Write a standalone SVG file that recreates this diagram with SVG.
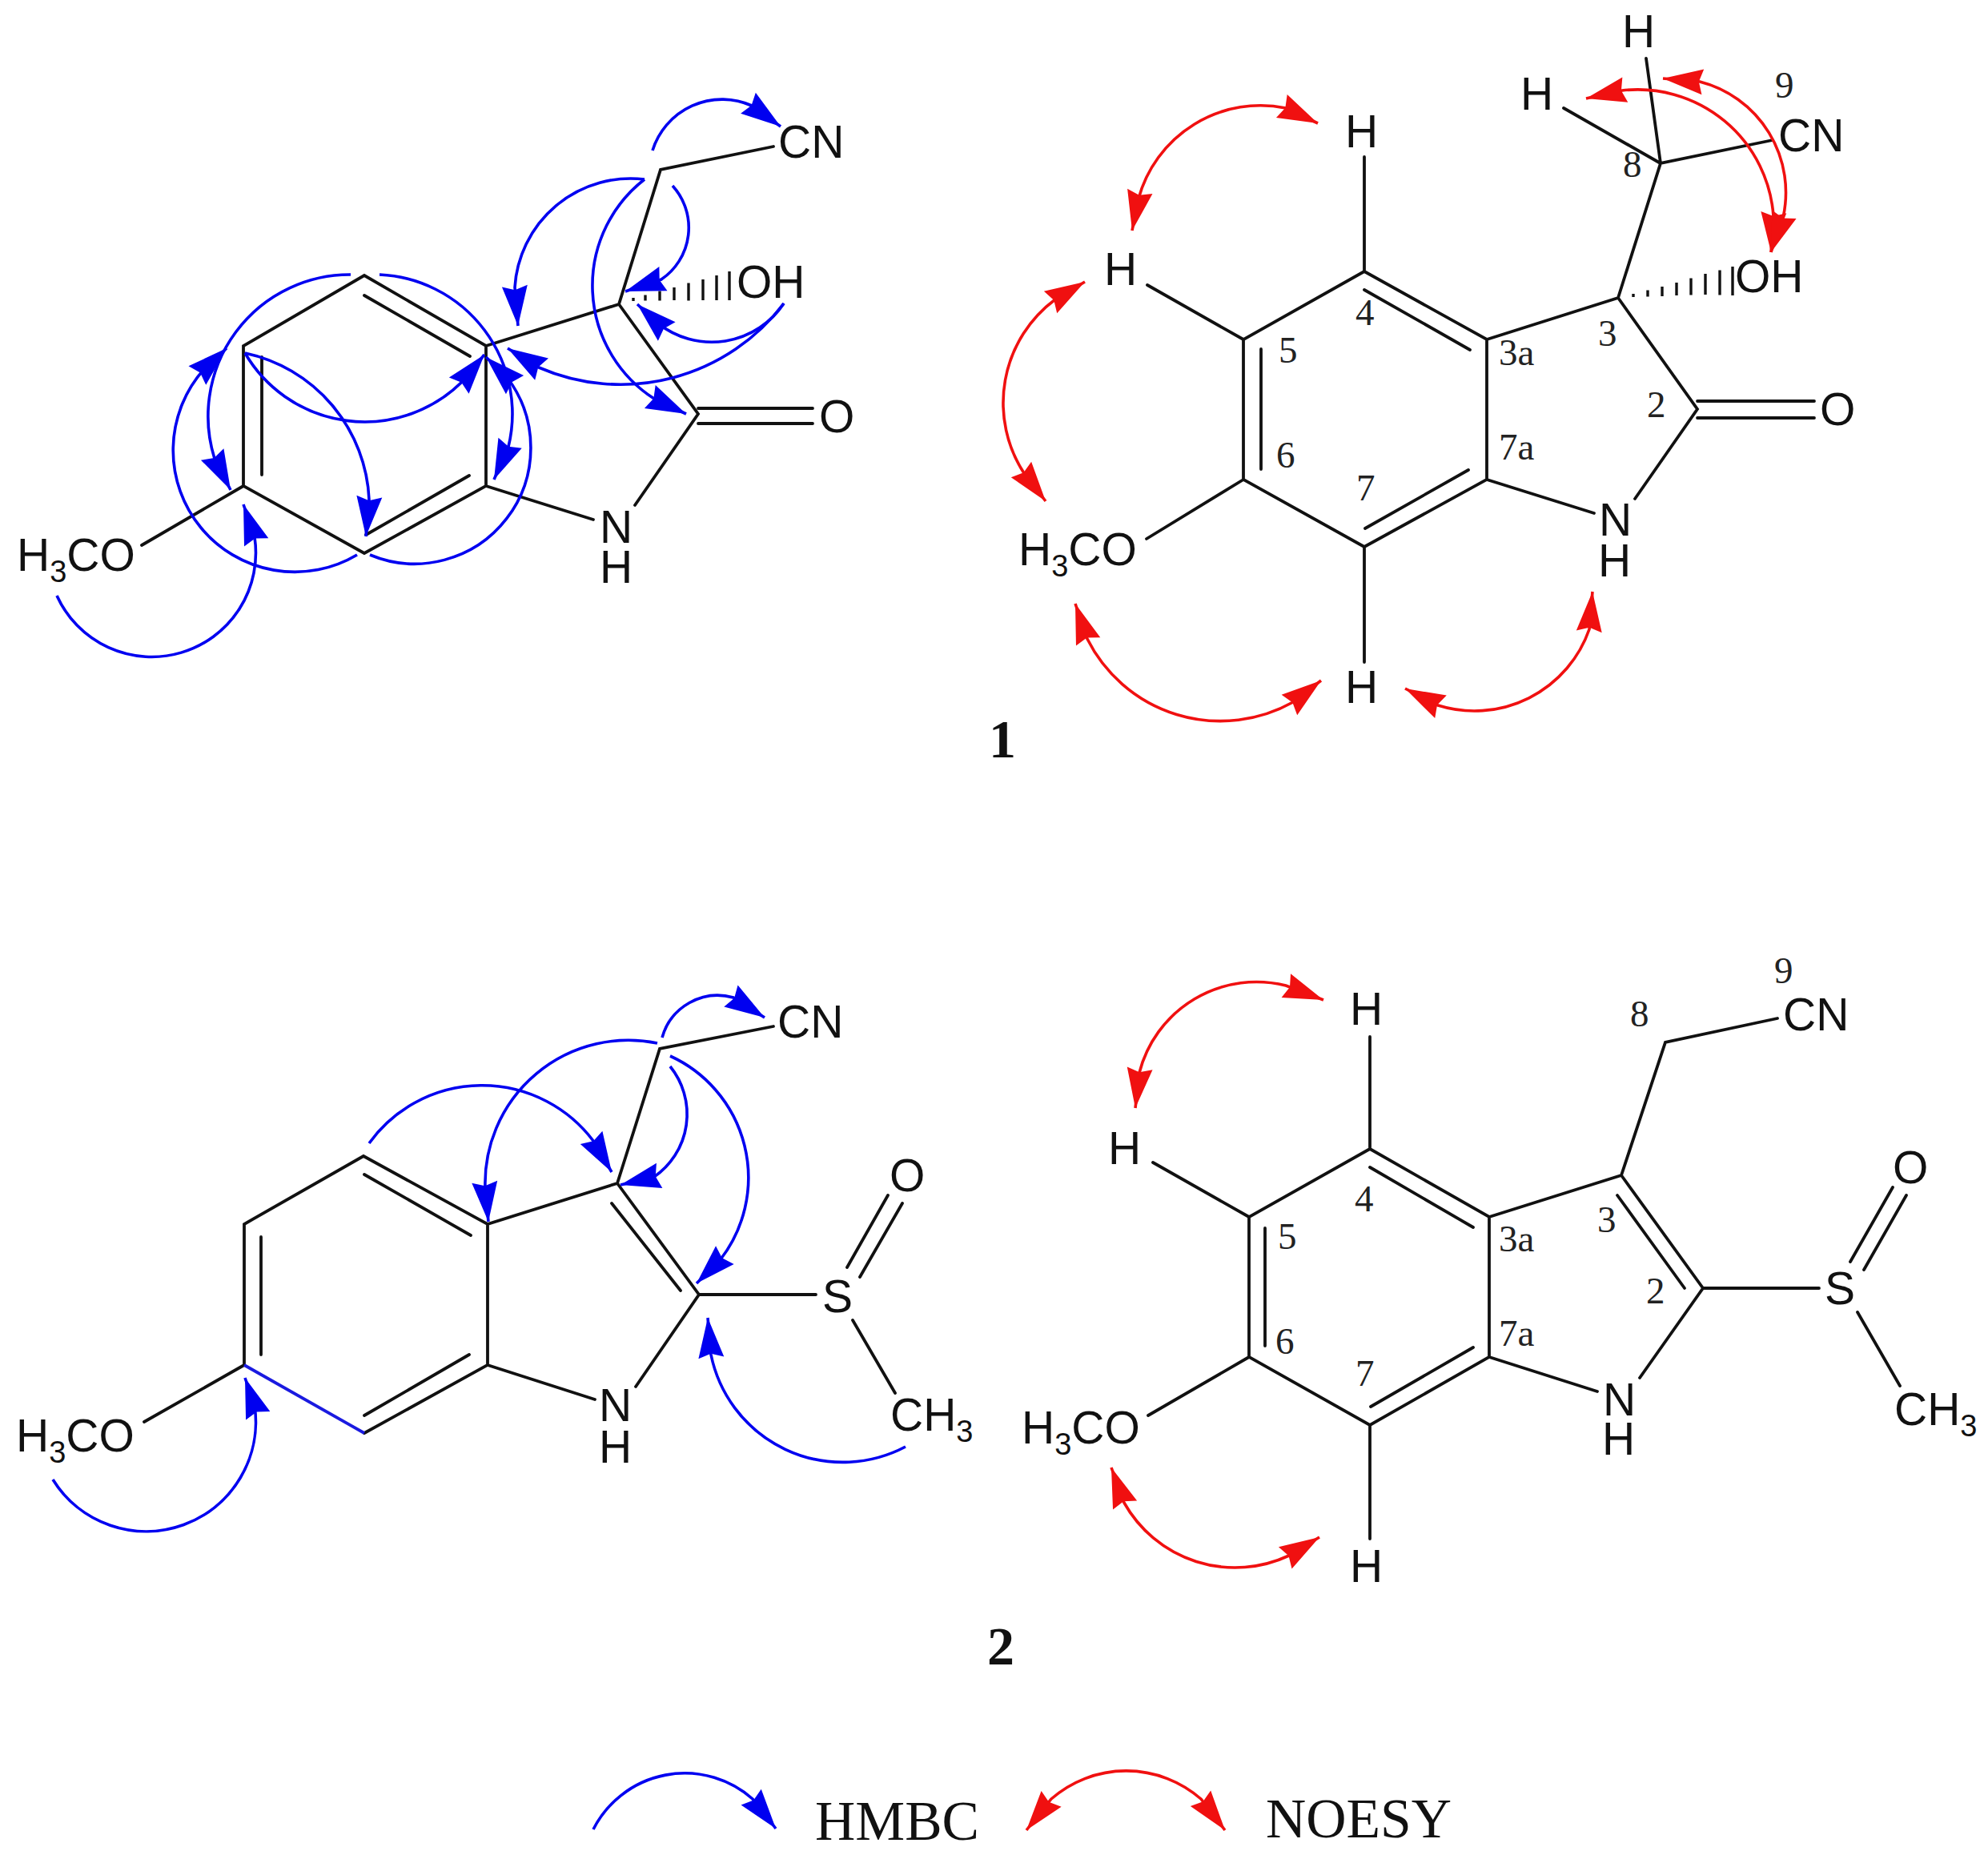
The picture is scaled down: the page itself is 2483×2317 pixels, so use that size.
<svg xmlns="http://www.w3.org/2000/svg" width="2483" height="2317" viewBox="0 0 2483 2317">
<style>
.b{fill:none;stroke:#111;stroke-width:3.8;stroke-linecap:round}
.h{fill:none;stroke:#111;stroke-width:3.4}
.a{font-family:"Liberation Sans",Arial,sans-serif;font-size:57px;fill:#111}
.n{font-family:"Liberation Serif","Times New Roman",serif;font-size:47px;fill:#222}
.t{font-family:"Liberation Serif","Times New Roman",serif;font-size:70px;fill:#111}
.c{font-family:"Liberation Serif","Times New Roman",serif;font-size:68px;font-weight:bold;fill:#111}
.hm{fill:none;stroke:#0000f0;stroke-width:3.6;marker-end:url(#mb)}
.no{fill:none;stroke:#f01010;stroke-width:3.6;marker-start:url(#mr);marker-end:url(#mr)}
</style>
<defs>
<marker id="mb" markerUnits="userSpaceOnUse" markerWidth="60" markerHeight="40" refX="50" refY="16" orient="auto-start-reverse" viewBox="0 0 60 32" overflow="visible"><path d="M0,0L50,16L0,32L5,16z" fill="#0000f0"/></marker>
<marker id="mr" markerUnits="userSpaceOnUse" markerWidth="60" markerHeight="40" refX="50" refY="16" orient="auto-start-reverse" viewBox="0 0 60 32" overflow="visible"><path d="M0,0L50,16L0,32L5,16z" fill="#f01010"/></marker>
</defs>

<g id="molecule-1-hmbc">
<path class="b" d="M966,183L825,212L773,380L607,432L455,344L304,432V607L455,691L607,607V432M455,369L587,445M327,446V593M457,668L586,594M607,607L741,649M773,380L872,517L793,631M872,510H1015M872,529H1015M304,607L177,681"/>
<path class="h" d="M791,372v4M806,368.500v7M824,363.500v12M842,359v16M860,353.500v22M878,349v26M895,344v31M911,339v36"/>
<text class="a" x="972" y="197">CN</text>
<text class="a" x="920" y="372">OH</text>
<text class="a" x="1023" y="540">O</text>
<text class="a" x="749" y="678">N</text>
<text class="a" x="749" y="728">H</text>
<text class="a" x="21" y="713">H<tspan font-size="38" dy="14">3</tspan><tspan dy="-14">CO</tspan></text>
</g>

<g id="molecule-1-noesy">
<path class="b" d="M2214,175L2074,204L2021,372L1857,424L1704,339L1553,424V599L1704,683L1857,599V424M1704,362L1836,437M1575,436V586M1705,660L1834,587M1857,599L1991,641M2021,372L2120,511L2042,623M2120,501H2266M2120,522H2266M1553,599L1432,673M1433,356L1553,424M1704,196V339M1704,683V827M2056,73L2074,204M1953,135L2074,204"/>
<path class="h" d="M2040,367v4M2058,362.500v8M2076,358v12M2094,353v16M2112,347.500v21M2130,342v26M2148,337.500v31M2164,333v36"/>
<text class="a" x="2221" y="189">CN</text>
<text class="a" x="2167" y="365">OH</text>
<text class="a" x="2273" y="531">O</text>
<text class="a" x="2026" y="59">H</text>
<text class="a" x="1899" y="137">H</text>
<text class="a" x="1680" y="184">H</text>
<text class="a" x="1379" y="356">H</text>
<text class="a" x="1997" y="669">N</text>
<text class="a" x="1996" y="720">H</text>
<text class="a" x="1680" y="878">H</text>
<text class="a" x="1272" y="706">H<tspan font-size="38" dy="14">3</tspan><tspan dy="-14">CO</tspan></text>
<text class="n" x="2217" y="122">9</text>
<text class="n" x="2027" y="221">8</text>
<text class="n" x="1693" y="406">4</text>
<text class="n" x="1597" y="453">5</text>
<text class="n" x="1872" y="456">3a</text>
<text class="n" x="1996" y="432">3</text>
<text class="n" x="2057" y="521">2</text>
<text class="n" x="1872" y="574">7a</text>
<text class="n" x="1594" y="584">6</text>
<text class="n" x="1694" y="625">7</text>
</g>
<text id="label-1" class="c" x="1252" y="946" text-anchor="middle">1</text>

<g id="molecule-2-hmbc">
<path class="b" d="M966,1282L824,1310L771,1478L609,1529L454,1444L305,1529V1705M455,1790L609,1705V1529M455,1467L588,1543M326,1545V1692M455,1768L586,1692M609,1705L743,1748M771,1478L873,1617L794,1732M764,1503L850,1612M873,1617H1019M1058,1583L1109,1493M1074,1595L1127,1503M1065,1649L1118,1740M305,1705L180,1776"/>
<path d="M305,1705L455,1790" fill="none" stroke="#1a1ae0" stroke-width="3.8"/>
<text class="a" x="971" y="1296">CN</text>
<text class="a" x="1111" y="1488">O</text>
<text class="a" x="1027" y="1639">S</text>
<text class="a" x="748" y="1775">N</text>
<text class="a" x="748" y="1827">H</text>
<text class="a" x="20" y="1813">H<tspan font-size="38" dy="14">3</tspan><tspan dy="-14">CO</tspan></text>
<text class="a" x="1112" y="1787">CH<tspan font-size="38" dy="14">3</tspan></text>
</g>

<g id="molecule-2-noesy">
<path class="b" d="M2220,1272L2080,1302L2025,1468L1860,1520L1711,1435L1560,1520V1695L1711,1780L1860,1695V1520M1711,1458L1840,1533M1580,1534V1681M1712,1757L1840,1683M1860,1695L1995,1738M2025,1468L2127,1609L2048,1721M2020,1493L2104,1609M2127,1609H2272M2311,1576L2364,1483M2328,1586L2381,1493M2320,1639L2373,1731M1560,1695L1434,1768M1440,1452L1560,1520M1711,1295V1435M1711,1780V1922"/>
<text class="a" x="2227" y="1287">CN</text>
<text class="a" x="2364" y="1478">O</text>
<text class="a" x="2279" y="1629">S</text>
<text class="a" x="1686" y="1280">H</text>
<text class="a" x="1384" y="1454">H</text>
<text class="a" x="2002" y="1768">N</text>
<text class="a" x="2001" y="1817">H</text>
<text class="a" x="1686" y="1976">H</text>
<text class="a" x="1276" y="1803">H<tspan font-size="38" dy="14">3</tspan><tspan dy="-14">CO</tspan></text>
<text class="a" x="2366" y="1780">CH<tspan font-size="38" dy="14">3</tspan></text>
<text class="n" x="2216" y="1228">9</text>
<text class="n" x="2036" y="1282">8</text>
<text class="n" x="1692" y="1513">4</text>
<text class="n" x="1995" y="1539">3</text>
<text class="n" x="1596" y="1560">5</text>
<text class="n" x="1872" y="1563">3a</text>
<text class="n" x="2056" y="1628">2</text>
<text class="n" x="1872" y="1681">7a</text>
<text class="n" x="1593" y="1691">6</text>
<text class="n" x="1693" y="1731">7</text>
</g>
<text id="label-2" class="c" x="1250" y="2079" text-anchor="middle">2</text>

<g id="connectors">
<g id="hmbc-1">
<path class="hm" d="M815,188A91,91 0 0 1 939,132L975,158"/>
<path class="hm" d="M805,224A145,145 0 0 0 643,359L647,407"/>
<path class="hm" d="M840,232A78,78 0 0 1 826,349L781,364"/>
<path class="hm" d="M805,224A168,168 0 0 0 817,498L857,517"/>
<path class="hm" d="M979,379A108,108 0 0 1 822,404L796,380"/>
<path class="hm" d="M979,379A256,256 0 0 1 673,459L634,435"/>
<path class="hm" d="M306,441A173,173 0 0 0 577,477L605,443"/>
<path class="hm" d="M306,441A196,196 0 0 1 461,624L457,670"/>
<path class="hm" d="M438,343A177,177 0 0 0 268,573L288,612"/>
<path class="hm" d="M446,693A152,152 0 0 1 255,461L283,435"/>
<path class="hm" d="M474,343A174,174 0 0 1 635,558L617,599"/>
<path class="hm" d="M462,693A145,145 0 0 0 633,471L607,446"/>
<path class="hm" d="M71,744A130,130 0 0 0 318,671L304,630"/>
</g>
<g id="noesy-1">
<path class="no" d="M1414,288L1422,248A158,158 0 0 1 1606,135L1646,154"/>
<path class="no" d="M1355,352L1318,374A161,161 0 0 0 1279,591L1306,626"/>
<path class="no" d="M1343,754L1358,798A186,186 0 0 0 1615,877L1650,850"/>
<path class="no" d="M1755,860L1796,881A152,152 0 0 0 1985,786L1989,739"/>
<path class="no" d="M1981,123L2026,113A170,170 0 0 1 2215,270L2212,315"/>
<path class="no" d="M2077,98L2123,102A143,143 0 0 1 2227,272L2212,315"/>
</g>
<g id="hmbc-2">
<path class="hm" d="M827,1296A72,72 0 0 1 916,1246L955,1271"/>
<path class="hm" d="M821,1303A179,179 0 0 0 606,1484L610,1526"/>
<path class="hm" d="M837,1332A95,95 0 0 1 817,1470L775,1480"/>
<path class="hm" d="M837,1319A167,167 0 0 1 900,1573L870,1603"/>
<path class="hm" d="M461,1428A174,174 0 0 1 741,1425L764,1464"/>
<path class="hm" d="M66,1848A137,137 0 0 0 318,1756L306,1721"/>
<path class="hm" d="M1131,1807A168,168 0 0 1 888,1692L884,1646"/>
</g>
<g id="noesy-2">
<path class="no" d="M1418,1384L1423,1340A151,151 0 0 1 1606,1231L1653,1249"/>
<path class="no" d="M1388,1833L1404,1877A159,159 0 0 0 1610,1943L1648,1920"/>
</g>
<g id="legend-arrows">
<path class="hm" d="M741,2285A128,128 0 0 1 940,2247L969,2284"/>
<path class="no" d="M1282,2286L1313,2247A142,142 0 0 1 1500,2247L1530,2286"/>
</g>
</g>
<g id="legend">
<text class="t" x="1018" y="2298" textLength="205" lengthAdjust="spacingAndGlyphs">HMBC</text>
<text class="t" x="1581" y="2295" textLength="232" lengthAdjust="spacingAndGlyphs">NOESY</text>
</g>
</svg>
